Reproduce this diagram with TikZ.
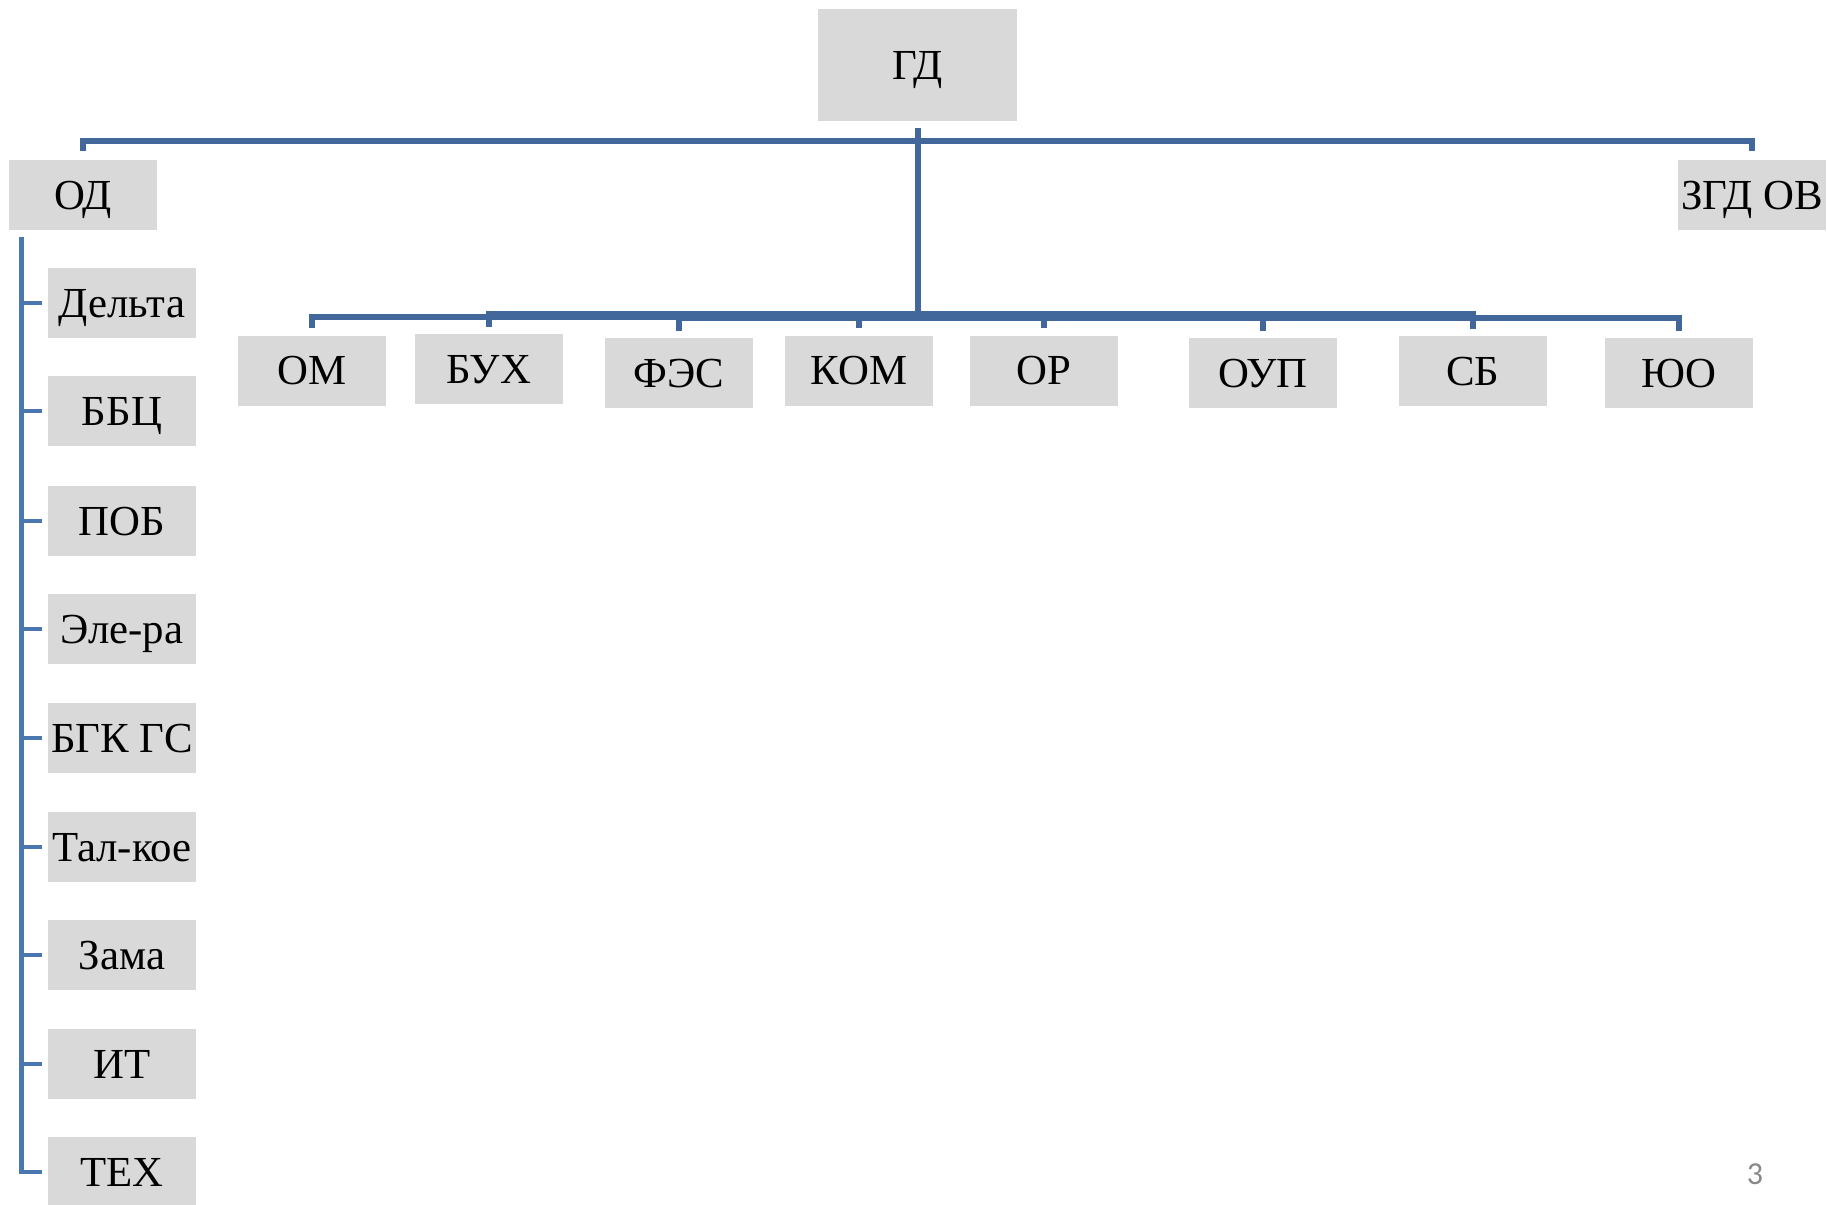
\documentclass[tikz,border=0pt]{standalone}
\usepackage{fontspec}
\setmainfont{Liberation Serif}
\newfontfamily\numfont{Carlito}
\definecolor{linkblue}{HTML}{41679B}
\definecolor{spineblue}{HTML}{4A77B0}
\definecolor{boxgray}{HTML}{D9D9D9}
\definecolor{pagegray}{HTML}{888888}
\tikzset{
  unit/.style={fill=boxgray, draw=none, inner sep=0pt, minimum width=74pt, minimum height=35pt,
    font=\fontsize{21.4}{25}\selectfont, text height=14.2pt, text depth=0pt},
  conn/.style={draw=linkblue, line width=3pt},
  lconn/.style={draw=spineblue, line width=2.4pt},
}
\begin{document}
\begin{tikzpicture}[x=0.5pt, y=-0.5pt]
  \useasboundingbox (0,0) rectangle (1827,1205);

  % head and its two direct reports
  \node[unit, minimum width=99.5pt, minimum height=56pt] (gd) at (917.5,65) {ГД};
  \node[unit] (od)  at (83,195)   {ОД};
  \node[unit] (zgd) at (1752,195) {ЗГД ОВ};

  % departments under the head
  \node[unit] (om)  at (312,370.5)  {ОМ};
  \node[unit] (bux) at (489,369)    {БУХ};
  \node[unit] (fes) at (679,373)    {ФЭС};
  \node[unit] (kom) at (859,370.5)  {КОМ};
  \node[unit] (or)  at (1044,370.5) {ОР};
  \node[unit] (oup) at (1263,373)   {ОУП};
  \node[unit] (sb)  at (1473,371)   {СБ};
  \node[unit] (yuo) at (1679,373)   {ЮО};

  % units under ОД
  \node[unit] (delta) at (122,303)  {Дельта};
  \node[unit] (bbc)   at (122,411)  {ББЦ};
  \node[unit] (pob)   at (122,521)  {ПОБ};
  \node[unit] (elera) at (122,629)  {Эле-ра};
  \node[unit] (bgk)   at (122,738)  {БГК ГС};
  \node[unit] (talk)  at (122,847)  {Тал-кое};
  \node[unit] (zama)  at (122,955)  {Зама};
  \node[unit] (it)    at (122,1064) {ИТ};
  \node[unit] (tex)   at (122,1172) {ТЕХ};

  % top bar linking ОД and ЗГД ОВ
  \draw[conn] ([yshift=4.5pt]od.north) -- ++(0,5pt) -| ([yshift=4.5pt]zgd.north);

  % trunk from ГД down to the department bar
  \coordinate (hub) at (917.5,316);
  \draw[conn] ([yshift=-3.5pt]gd.south) -- (hub);
  \foreach \d/\o in {om/-0.5, bux/1, fes/-0.8, kom/0, or/0, oup/-0.8, sb/1, yuo/-1.2}
    \draw[conn] ([yshift=\o pt]hub) -| ([yshift=3.5pt]\d.north);

  % spine under ОД with ticks to each unit
  \coordinate (spine) at ([xshift=6.5pt,yshift=-3.5pt]od.south west);
  \foreach \u in {delta,bbc,pob,elera,bgk,talk,zama,it,tex}
    \draw[lconn] (spine) |- ([xshift=-3pt]\u.west);

  % page number
  \node[text=pagegray, font=\numfont\fontsize{16}{19}\selectfont, inner sep=0pt] (pg) at (1755,1174) {3};
\end{tikzpicture}
\end{document}
